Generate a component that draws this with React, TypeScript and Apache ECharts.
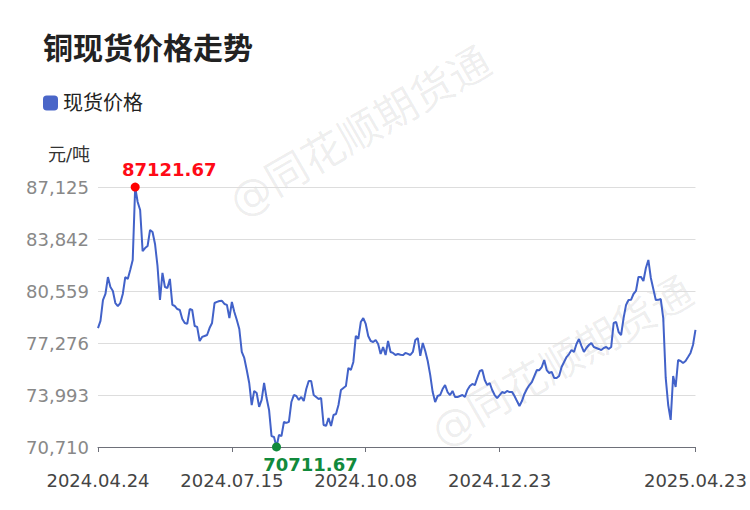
import React, { useEffect, useRef } from "react";
import * as echarts from "echarts";

const TITLE = "铜现货价格走势";
const SERIES_NAME = "现货价格";
const UNIT = "元/吨";
const WATERMARK = "@同花顺期货通";

// trading calendar (categories): weekdays between these dates, minus exchange holidays
const START_DATE = "2024-04-24";
const END_DATE = "2025-04-23";
const HOLIDAYS = [
  "2024-05-01", "2024-05-02", "2024-05-03", "2024-06-10", "2024-09-16", "2024-09-17",
  "2024-10-01", "2024-10-02", "2024-10-03", "2024-10-04", "2024-10-07",
  "2025-01-01", "2025-01-28", "2025-01-29", "2025-01-30", "2025-01-31",
  "2025-02-03", "2025-02-04", "2025-04-04",
];

// spot price, 元/吨
const PRICES = [
  78220, 78670, 79990, 80370, 81440, 80810, 80560, 79800, 79610, 79800,
  80370, 81440, 81320, 81890, 82520, 87121.67, 86180, 85670, 83080, 83270,
  83400, 84410, 84280, 83530, 82140, 79990, 81700, 80810, 80750, 81320,
  79680, 79610, 79420, 79360, 78790, 78540, 78480, 79420, 79360, 78350,
  78290, 77400, 77660, 77720, 77780, 78220, 78540, 79800, 79870, 79930,
  79940, 79740, 79680, 78850, 79870, 79230, 78730, 78160, 76710, 76330,
  75570, 74750, 73360, 74250, 74120, 73240, 73680, 74750, 73800, 73050,
  71400, 71340, 70711.67, 71470, 71400, 72290, 72230, 72300, 73550, 73990,
  73930, 73680, 73870, 73610, 74370, 74880, 74870, 73990, 73870, 73740,
  73800, 72100, 72040, 72540, 72040, 72730, 72790, 73360, 74310, 74440,
  74560, 75700, 75570, 76080, 77720, 77530, 78600, 78850, 78480, 77720,
  77400, 77340, 77470, 77210, 76580, 77020, 76520, 77400, 76710, 76650,
  76520, 76580, 76530, 76510, 76650, 76590, 76520, 76710, 77470, 77590,
  76460, 77280, 76770, 76140, 75260, 74180, 73550, 73930, 73990, 74370,
  74620, 74180, 73990, 74250, 73870, 73860, 73930, 73990, 73870, 74310,
  74560, 74690, 74620, 75070, 75510, 75570, 74940, 74620, 74750, 74310,
  73990, 73800, 73990, 74180, 74120, 74250, 74180, 74190, 73930, 73610,
  73300, 73610, 74060, 74370, 74620, 74810, 75190, 75570, 75560, 75760,
  76200, 75570, 75380, 75450, 75070, 75060, 75190, 75760, 76080, 76390,
  76580, 76830, 76710, 77210, 77530, 77090, 76710, 76960, 77150, 77280,
  77020, 76960, 76900, 76830, 76960, 77020, 76900, 77020, 78540, 78600,
  77970, 77780, 78850, 79680, 79990, 80000, 80370, 80560, 81440, 81450,
  81190, 82010, 82520, 81380, 80690, 79990, 80000, 80050, 78850, 75070,
  73360, 72420, 75190, 74500, 76200, 76140, 76010, 76140, 76390, 76650,
  77150, 78100,
];

const Y_MIN = 70710;
const Y_MAX = 87125;
const Y_INTERVAL = 3283;
const LABEL_STEP = 54;

function buildDates(): string[] {
  const out: string[] = [];
  const [sy, sm, sd] = START_DATE.split("-").map(Number);
  const [ey, em, ed] = END_DATE.split("-").map(Number);
  let t = Date.UTC(sy, sm - 1, sd);
  const end = Date.UTC(ey, em - 1, ed);
  const hol = new Set(HOLIDAYS);
  while (t <= end) {
    const d = new Date(t);
    const wd = d.getUTCDay();
    const iso = d.toISOString().slice(0, 10);
    if (wd !== 0 && wd !== 6 && !hol.has(iso)) out.push(iso.replace(/-/g, "."));
    t += 86400000;
  }
  return out;
}

export default function App() {
  const ref = useRef<HTMLDivElement>(null);
  useEffect(() => {
    if (!ref.current) return;
    const chart = echarts.init(ref.current, undefined, { renderer: "svg" });
    const dates = buildDates();
    const last = dates.length - 1;
    const showIdx = (i: number) => (i % LABEL_STEP === 0 && i <= last - 60) || i === last;
    const font = "DejaVu Sans, 'Noto Sans CJK SC', sans-serif";
    const wm = (x: number, y: number) => ({
      type: "text",
      x,
      y,
      rotation: Math.PI / 6,
      silent: true,
      z: -10,
      style: {
        text: WATERMARK,
        fontSize: 42,
        fontFamily: font,
        fill: "rgba(0,0,0,0.07)",
        textAlign: "center",
        textVerticalAlign: "middle",
      },
    });
    chart.setOption({
      animation: false,
      backgroundColor: "#ffffff",
      textStyle: { fontFamily: font },
      title: {
        text: TITLE,
        left: 43,
        top: 33,
        padding: 0,
        textStyle: { fontSize: 30, fontWeight: "bold", color: "#222222", fontFamily: font },
      },
      legend: {
        left: 43,
        top: 93,
        padding: 0,
        itemWidth: 15,
        itemHeight: 15,
        itemGap: 6,
        icon: "roundRect",
        textStyle: { fontSize: 20, color: "#222222", fontFamily: font },
        data: [SERIES_NAME],
      },
      graphic: [wm(360, 132), wm(562, 362)],
      grid: { left: 98, right: 52, top: 187, bottom: 63, containLabel: false },
      xAxis: {
        type: "category",
        data: dates,
        boundaryGap: false,
        axisLine: { lineStyle: { color: "#6e7079", width: 1 } },
        axisTick: { interval: showIdx, length: 5, lineStyle: { color: "#6e7079" } },
        axisLabel: {
          interval: showIdx,
          fontSize: 18,
          color: "#444444",
          margin: 24,
          fontFamily: font,
          hideOverlap: false,
        },
        splitLine: { show: false },
      },
      yAxis: {
        type: "value",
        min: Y_MIN,
        max: Y_MAX,
        interval: Y_INTERVAL,
        name: UNIT,
        nameLocation: "end",
        nameGap: 24,
        nameTextStyle: { fontSize: 18, color: "#333333", align: "right", padding: [0, 8, 0, 0], fontFamily: font },
        axisLine: { show: false },
        axisTick: { show: false },
        axisLabel: {
          fontSize: 18,
          color: "#888888",
          margin: 9,
          fontFamily: font,
          formatter: (v: number) => Math.round(v).toLocaleString("en-US"),
        },
        splitLine: { lineStyle: { color: "#dddddd", width: 1 } },
      },
      series: [
        {
          name: SERIES_NAME,
          type: "line",
          data: PRICES,
          showSymbol: false,
          symbol: "none",
          lineStyle: { color: "#4262c9", width: 2 },
          itemStyle: { color: "#4a66c8" },
          markPoint: {
            symbol: "circle",
            symbolSize: 9,
            data: [
              {
                type: "max",
                itemStyle: { color: "#ff0000" },
                label: {
                  position: "top",
                  distance: 4,
                  offset: [34, 0],
                  color: "#ff0a16",
                  fontSize: 18,
                  fontWeight: "bold",
                  fontFamily: font,
                  formatter: (p: any) => Number(p.value).toFixed(2),
                },
              },
              {
                type: "min",
                itemStyle: { color: "#118a3c" },
                label: {
                  position: "bottom",
                  distance: 4,
                  offset: [34, 0],
                  color: "#118a3c",
                  fontSize: 18,
                  fontWeight: "bold",
                  fontFamily: font,
                  formatter: (p: any) => Number(p.value).toFixed(2),
                },
              },
            ],
          },
        },
      ],
    });
    return () => chart.dispose();
  }, []);
  return <div ref={ref} style={{ width: 750, height: 510, position: "absolute", left: 0, top: 0 }} />;
}
